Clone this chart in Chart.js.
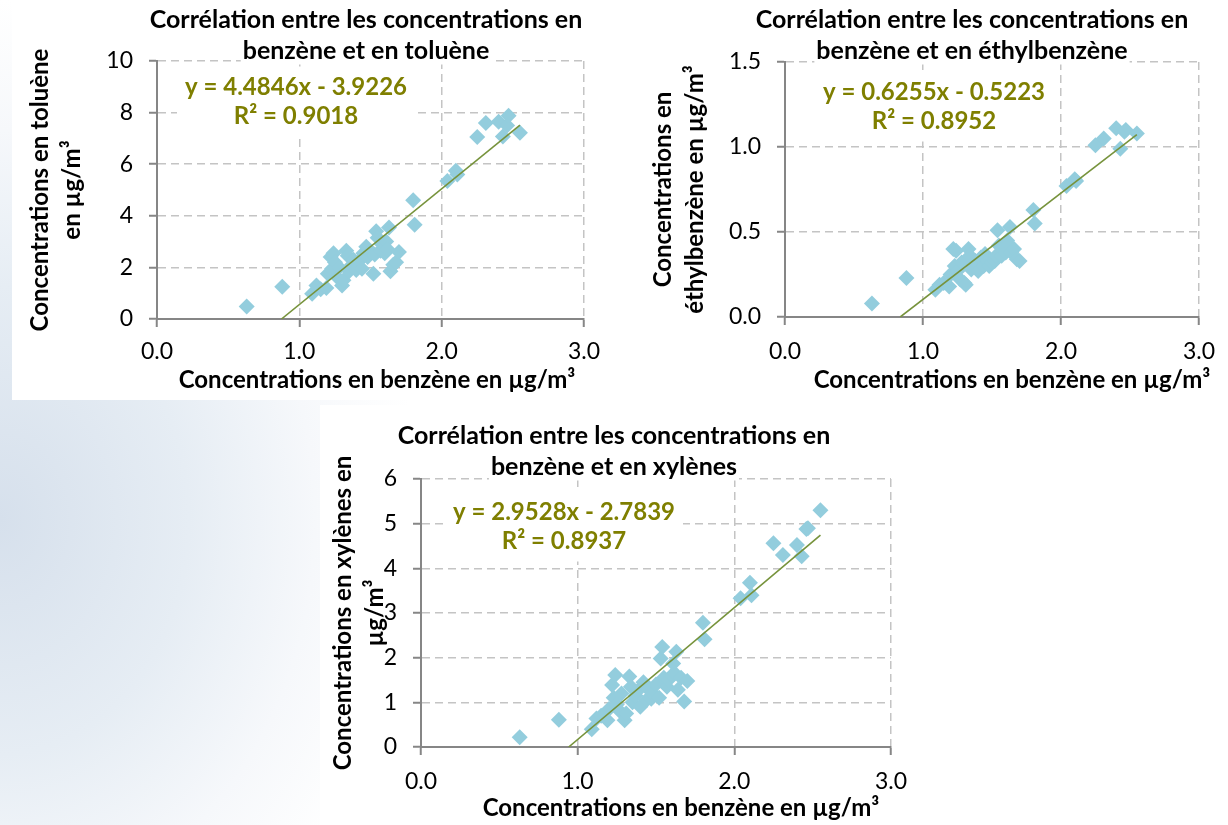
<!DOCTYPE html>
<html><head><meta charset="utf-8">
<script src="https://cdn.jsdelivr.net/npm/chart.js@4.4.1/dist/chart.umd.min.js"></script>
<style>
html,body{margin:0;padding:0;}
body{width:1228px;height:825px;position:relative;overflow:hidden;background:#fff;}
#bg{position:absolute;left:0;top:0;width:440px;height:825px;
 background:radial-gradient(ellipse 420px 520px at 0px 520px,#d6e0ec 0%,#e6edf4 45%,#f6f8fb 75%,#ffffff 100%);}
.box{position:absolute;background:#fff;}
canvas{display:block;}
</style></head><body>
<div id="bg"></div>
<div class="box" style="left:12px;top:0;width:608px;height:400px"><canvas id="c1" width="608" height="400"></canvas></div>
<div class="box" style="left:620px;top:0;width:608px;height:400px"><canvas id="c2" width="608" height="400"></canvas></div>
<div class="box" style="left:320px;top:405px;width:600px;height:420px"><canvas id="c3" width="600" height="420"></canvas></div>
<script>
// ---- data ----
const benzene      = [0.63,0.88,1.09,1.12,1.15,1.19,1.20,1.22,1.23,1.24,1.25,1.27,1.28,1.30,1.31,1.33,1.34,1.35,1.37,1.38,1.40,1.42,1.44,1.45,1.47,1.48,1.50,1.52,1.53,1.54,1.55,1.57,1.58,1.60,1.61,1.62,1.63,1.64,1.66,1.68,1.70,1.80,1.81,2.04,2.10,2.11,2.25,2.31,2.40,2.43,2.46,2.47,2.55];
const toluene      = [0.48,1.25,0.98,1.30,1.15,1.20,1.75,2.40,1.95,2.55,2.20,1.60,2.00,1.30,1.50,2.65,2.45,1.85,2.10,2.30,1.90,2.25,1.95,2.55,2.80,2.40,2.60,1.75,2.50,3.40,3.15,2.65,2.90,2.55,3.00,2.70,3.55,1.85,2.10,2.20,2.60,4.60,3.65,5.35,5.75,5.60,7.05,7.60,7.65,7.07,7.50,7.88,7.22];
const ethylbenzene = [0.08,0.23,0.16,0.19,0.20,0.18,0.25,0.40,0.30,0.39,0.27,0.22,0.32,0.20,0.19,0.40,0.36,0.28,0.30,0.33,0.27,0.35,0.30,0.37,0.33,0.30,0.32,0.33,0.36,0.51,0.42,0.36,0.40,0.38,0.45,0.42,0.53,0.38,0.40,0.34,0.33,0.63,0.55,0.77,0.81,0.80,1.01,1.05,1.11,0.99,1.09,1.10,1.08];
const xylenes      = [0.22,0.61,0.40,0.64,0.70,0.60,0.85,1.39,1.10,1.61,0.95,0.80,1.20,0.60,0.75,1.58,1.35,1.00,1.15,1.25,0.90,1.45,1.05,1.30,1.08,1.20,1.40,1.10,1.98,2.24,1.55,1.35,1.50,1.60,1.87,1.65,2.13,1.28,1.55,1.02,1.48,2.78,2.41,3.33,3.68,3.40,4.56,4.30,4.52,4.27,4.88,4.90,5.30];
const slopes     = [4.4846, 0.6255, 2.9528];
const intercepts = [-3.9226, -0.5223, -2.7839];
const r2Values   = [0.9018, 0.8952, 0.8937];
const xTicks = [0, 1, 2, 3];
const yMaxes = [10, 1.5, 6];
const ySteps = [2, 0.5, 1];
const titleLines = [
  ["Corrélation entre les concentrations en", "benzène et en toluène"],
  ["Corrélation entre les concentrations en", "benzène et en éthylbenzène"],
  ["Corrélation entre les concentrations en", "benzène et en xylènes"]
];
const yTitles = [
  ["Concentrations en toluène", "en µg/m³"],
  ["Concentrations en", "éthylbenzène en µg/m³"],
  ["Concentrations en xylènes en", "µg/m³"]
];
const xTitle = "Concentrations en benzène en µg/m³";

// ---- styling / layout ----
const FONT = "Lato";
const POINT = "#93cddd";
const TREND = "#77933c";
const EQ = "#7f7f00";
const AXIS = "#868686";
const GRID = "#c4c4c4";

const textPlugin = {
  id: 'textBoxes',
  afterDraw(chart, args, opts) {
    const ctx = chart.ctx;
    (opts.items || []).forEach(it => {
      ctx.save();
      ctx.font = it.font;
      const lh = it.lineHeight;
      const widths = it.lines.map(l => ctx.measureText(l).width);
      ctx.fillStyle = '#ffffff';
      if (it.block) {
        const w = Math.max(...widths);
        const h = lh * it.lines.length;
        ctx.fillRect(it.x - w/2 - it.padX, it.y - lh/2 - it.padY, w + 2*it.padX, h + 2*it.padY);
      } else if (it.bg) {
        it.lines.forEach((l, i) => {
          ctx.fillRect(it.x - widths[i]/2 - it.padX, it.y + i*lh - lh/2 + 4, widths[i] + 2*it.padX, lh - 6);
        });
      }
      ctx.fillStyle = it.color;
      ctx.textAlign = 'center';
      ctx.textBaseline = 'middle';
      it.lines.forEach((l, i) => ctx.fillText(l, it.x, it.y + i*lh));
      ctx.restore();
    });
  }
};

const layouts = [
  {id:'c1', top:61, right:36, yW:145, xH:81, yTitlePad:12, xTickPad:11,
   title:{x:354, y:20}, eq:{x:284, y:87}, xt:{x:365, y:380}},
  {id:'c2', top:62, right:29, yW:165, xH:83, yTitlePad:27, xTickPad:13,
   title:{x:352, y:20}, eq:{x:314, y:92}, xt:{x:392, y:380}},
  {id:'c3', top:74, right:27, yW:101, xH:78, yTitlePad:7, xTickPad:13,
   title:{x:294, y:31}, eq:{x:244, y:107}, xt:{x:361, y:403}}
];
const ySeries = [toluene, ethylbenzene, xylenes];

function fmtNum(v, d) { return v.toFixed(d); }

layouts.forEach((L, k) => {
  const ys = ySeries[k];
  const pts = benzene.map((x, i) => ({x: x, y: ys[i]}));
  const a = slopes[k], b = intercepts[k];
  const xStart = Math.max(Math.min(...benzene), -b / a);
  const xEnd = Math.max(...benzene);
  const trend = [{x: xStart, y: a*xStart + b}, {x: xEnd, y: a*xEnd + b}];
  const eqLines = [
    'y = ' + fmtNum(a, 4) + 'x ' + (b < 0 ? '- ' : '+ ') + fmtNum(Math.abs(b), 4),
    'R² = ' + fmtNum(r2Values[k], 4)
  ];
  const yDec = ySteps[k] < 1 ? 1 : 0;
  new Chart(document.getElementById(L.id), {
    type: 'scatter',
    data: {
      datasets: [
        {type:'line', data: trend, borderColor: TREND, borderWidth: 1.6, pointRadius: 0, fill: false, tension: 0},
        {type:'scatter', data: pts, pointStyle: 'rectRot', pointRadius: 8, pointHoverRadius: 8,
         pointBackgroundColor: POINT, pointBorderWidth: 0, borderWidth: 0}
      ]
    },
    options: {
      responsive: false, animation: false, devicePixelRatio: 1,
      layout: {padding: {left: 0, top: L.top, right: L.right, bottom: 0}},
      plugins: {
        legend: {display: false}, tooltip: {enabled: false},
        textBoxes: {items: [
          {lines: titleLines[k], x: L.title.x, y: L.title.y, lineHeight: 31,
           font: 'bold 25px ' + FONT, color: '#000', padX: 2, padY: 0, bg: true},
          {lines: eqLines, x: L.eq.x, y: L.eq.y, lineHeight: 29,
           font: 'bold 24px ' + FONT, color: EQ, padX: 8, padY: 6, block: true},
          {lines: [xTitle], x: L.xt.x, y: L.xt.y, lineHeight: 28,
           font: 'bold 24px ' + FONT, color: '#000', padX: 0, padY: 0}
        ]}
      },
      scales: {
        x: {
          type: 'linear', position: 'bottom', min: 0, max: 3,
          afterBuildTicks: s => { s.ticks = xTicks.map(v => ({value: v})); },
          ticks: {callback: v => fmtNum(v, 1), font: {family: FONT, size: 23}, color: '#000', padding: L.xTickPad, maxRotation: 0},
          grid: {color: GRID, lineWidth: 1.5, tickColor: AXIS, tickWidth: 2, tickLength: 8},
          border: {display: true, color: AXIS, width: 2, dash: [8, 5]},
          title: {display: false, text: xTitle},
          afterFit: s => { s.height = L.xH; }
        },
        y: {
          type: 'linear', position: 'left', min: 0, max: yMaxes[k],
          ticks: {stepSize: ySteps[k], callback: v => fmtNum(v, yDec), font: {family: FONT, size: 23}, color: '#000', padding: 16},
          grid: {color: GRID, lineWidth: 1.5, tickColor: AXIS, tickWidth: 2, tickLength: 8},
          border: {display: true, color: AXIS, width: 2, dash: [8, 5]},
          title: {display: true, text: yTitles[k], color: '#000',
                  font: {family: FONT, size: 24, weight: 'bold', lineHeight: 1.333},
                  padding: {top: L.yTitlePad, bottom: 0}},
          afterFit: s => { s.width = L.yW; }
        }
      }
    },
    plugins: [textPlugin]
  });
});
</script>
</body></html>
